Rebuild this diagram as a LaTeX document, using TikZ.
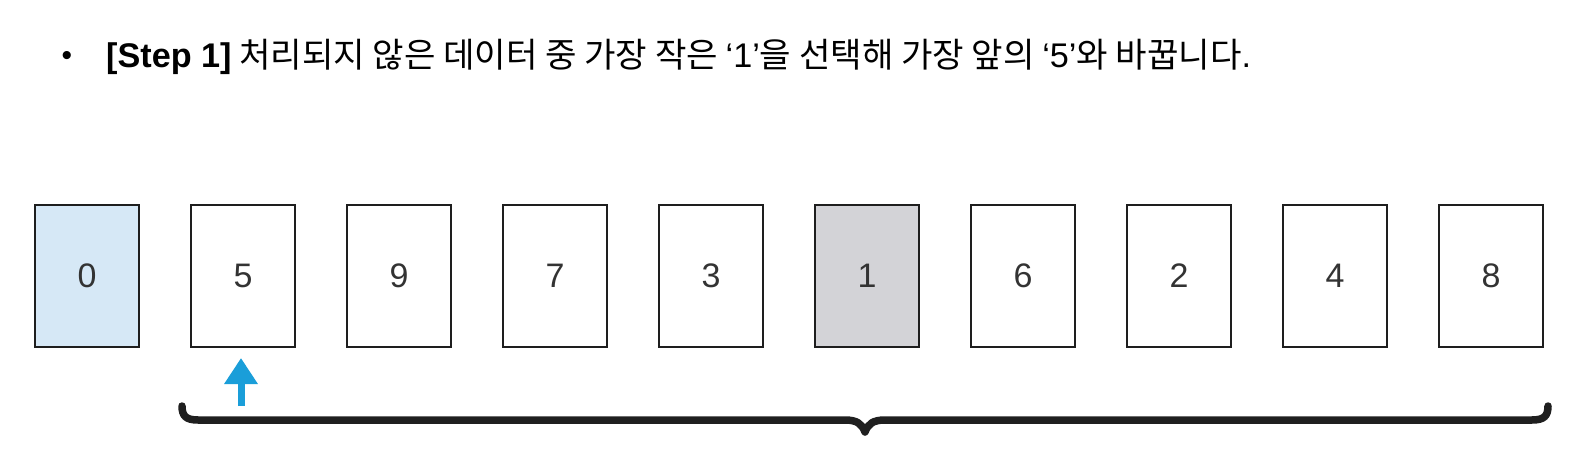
\documentclass[tikz,border=0pt]{standalone}
\usepackage{fontspec}
\setmainfont{Liberation Sans}
\newfontfamily\krfont{Noto Sans CJK KR}
\usetikzlibrary{arrows.meta}
\definecolor{doneblue}{HTML}{D6E8F6}
\definecolor{mingray}{HTML}{D3D3D7}
\definecolor{arrowblue}{HTML}{1A9ED9}
\definecolor{digitgray}{HTML}{333333}
\definecolor{edgegray}{HTML}{1E1E1E}
\begin{document}
\begin{tikzpicture}[x=1pt,y=-1pt,
  cardbox/.style={draw=edgegray, line width=2pt, minimum width=104pt, minimum height=142pt, inner sep=0pt,
    font=\fontsize{34}{40}\selectfont, text=digitgray},
  pointer/.style={-{Triangle[width=32pt,length=26pt]}, line width=7pt, draw=arrowblue, shorten >=10pt},
  bracestyle/.style={line width=7.5pt, draw=black!88, line cap=round, line join=round}]
\useasboundingbox (0,0) rectangle (1585,468);
\node[anchor=base, font=\fontsize{30}{36}\selectfont] (bullet) at (67,66) {•};
\node[anchor=base west, inner sep=0pt, font=\krfont\fontsize{34.2}{40}\selectfont] (title) at (106,68)
  {{\rmfamily\bfseries [Step 1]} 처리되지 않은 데이터 중 가장 작은 {\rmfamily ‘1’}을 선택해 가장 앞의 {\rmfamily ‘5’}와 바꿉니다{\rmfamily .}};
\node[cardbox, fill=doneblue] (b0) at (87,276) {0};
\node[cardbox, fill=white] (b1) at (243,276) {5};
\node[cardbox, fill=white] (b2) at (399,276) {9};
\node[cardbox, fill=white] (b3) at (555,276) {7};
\node[cardbox, fill=white] (b4) at (711,276) {3};
\node[cardbox, fill=mingray] (b5) at (867,276) {1};
\node[cardbox, fill=white] (b6) at (1023,276) {6};
\node[cardbox, fill=white] (b7) at (1179,276) {2};
\node[cardbox, fill=white] (b8) at (1335,276) {4};
\node[cardbox, fill=white] (b9) at (1491,276) {8};
\coordinate (foot) at (241,406);
\draw[pointer] (foot) -- (b1.south -| foot);
\draw[bracestyle] (182,406) .. controls (182,416) and (186,420) .. (198,420)
  -- (845,420) .. controls (857,420) and (862,424) .. (865,432)
  .. controls (868,424) and (873,420) .. (885,420)
  -- (1532,420) .. controls (1544,420) and (1548,416) .. (1548,406);
\end{tikzpicture}
\end{document}
